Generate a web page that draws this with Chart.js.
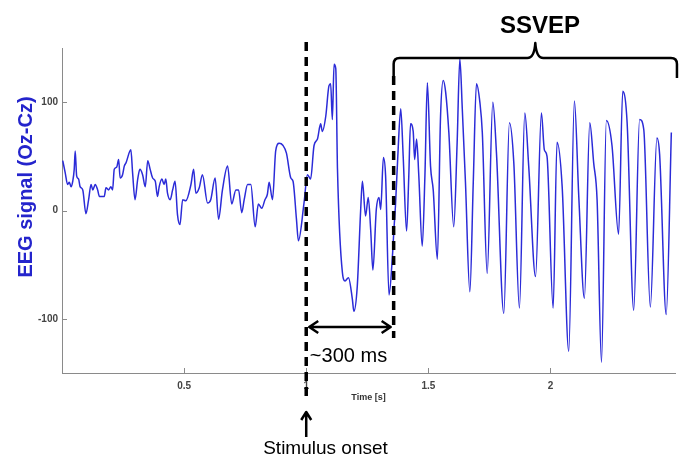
<!DOCTYPE html>
<html>
<head>
<meta charset="utf-8">
<script src="https://cdn.jsdelivr.net/npm/chart.js@4.4.1/dist/chart.umd.min.js"></script>
<style>
html,body{margin:0;padding:0;background:#ffffff;}
#wrap{width:683px;height:457px;position:relative;}
</style>
</head>
<body>
<div id="wrap"><canvas id="c" width="683" height="457"></canvas></div>
<script>
// ---- data ----
const timeSec = [
  0.003,0.013,0.023,0.030,0.037,0.044,0.050,0.054,0.060,0.068,
  0.074,0.085,0.098,0.109,0.119,0.126,0.136,0.146,0.153,0.173,
  0.180,0.191,0.200,0.207,0.214,0.224,0.232,0.238,0.248,0.255,
  0.262,0.282,0.289,0.299,0.310,0.319,0.330,0.341,0.351,0.361,
  0.371,0.382,0.391,0.398,0.409,0.418,0.425,0.432,0.443,0.453,
  0.463,0.473,0.483,0.494,0.507,0.528,0.539,0.548,0.562,0.575,
  0.596,0.609,0.627,0.641,0.657,0.678,0.695,0.712,0.723,0.736,
  0.746,0.760,0.773,0.791,0.804,0.818,0.831,0.841,0.848,0.862,
  0.875,0.889,0.905,0.919,0.937,0.946,0.960,0.968,0.991,1.005,
  1.018,1.032,1.046,1.059,1.066,1.080,1.093,1.100,1.107,1.114,
  1.121,1.128,1.148,1.159,1.173,1.189,1.195,1.209,1.223,1.230,
  1.243,1.254,1.264,1.273,1.287,1.298,1.305,1.316,1.325,1.339,
  1.353,1.359,1.366,1.375,1.387,1.397,1.411,1.420,1.427,1.438,
  1.444,1.452,1.461,1.475,1.486,1.496,1.509,1.520,1.537,1.550,
  1.561,1.571,1.584,1.604,1.618,1.629,1.639,1.652,1.670,1.684,
  1.697,1.711,1.721,1.741,1.764,1.779,1.809,1.832,1.850,1.873,
  1.895,1.911,1.939,1.963,1.975,1.986,2.011,2.027,2.048,2.075,
  2.098,2.116,2.139,2.161,2.177,2.191,2.209,2.229,2.252,2.279,
  2.296,2.314,2.341,2.365,2.382,2.409,2.436,2.447,2.474,2.495
];
const eegSignal = [
  46,35,24,26,22,27,38,55,32,29,
  22,19,-3,10,24,19,24,19,13,13,
  21,19,22,19,38,40,47,30,33,41,
  44,56,35,10,29,38,33,22,46,38,
  30,27,13,22,29,24,29,16,10,19,
  27,-4,-13,10,9,24,38,16,21,33,
  7,10,30,-8,19,41,6,19,19,-2,
  10,24,24,-15,6,2,10,15,26,10,
  55,62,60,53,30,27,-8,-28,7,33,
  29,60,66,80,73,87,115,117,84,135,
  131,38,-57,-65,-62,-82,-93,-70,1,27,
  -5,12,-18,-55,1,12,1,49,32,-78,
  -42,-18,7,50,94,50,-19,32,80,73,
  47,66,32,-33,32,118,41,19,-45,87,
  120,109,72,-15,63,140,94,26,-75,26,
  117,100,72,-58,100,53,-95,81,44,-90,
  90,41,-61,90,56,50,-90,63,22,-130,
  101,13,-81,81,44,10,-140,83,60,-22,
  110,81,-92,84,75,-89,67,52,-96,72
];
const xTickValues = [0.5, 1, 1.5, 2];
const yTickValues = [-100, 0, 100];
const xRange = [0, 2.51];
const yRange = [-150, 150];
const xAxisTitle = 'Time [s]';
const yAxisTitle = 'EEG signal (Oz-Cz)';
const stimulusOnsetSec = 1.0;
const ssvepStartSec = 1.358;
const ssvepEndSec = 2.518;
const ssvepLabel = 'SSVEP';
const latencyLabel = '~300 ms';
const onsetLabel = 'Stimulus onset';

const FONT = '"Liberation Sans", Arial, Helvetica, sans-serif';

const annotations = {
  id: 'annotations',
  afterDraw(chart) {
    const {ctx, chartArea: ca, scales: {x, y}} = chart;
    ctx.save();
    // inward tick marks
    ctx.strokeStyle = '#8a8a8a';
    ctx.lineWidth = 1;
    xTickValues.forEach(v => {
      const px = Math.round(x.getPixelForValue(v)) + 0.5;
      ctx.beginPath(); ctx.moveTo(px, ca.bottom); ctx.lineTo(px, ca.bottom - 5); ctx.stroke();
    });
    yTickValues.forEach(v => {
      const py = Math.round(y.getPixelForValue(v)) + 0.5;
      ctx.beginPath(); ctx.moveTo(ca.left, py); ctx.lineTo(ca.left + 5, py); ctx.stroke();
    });

    const xOn = x.getPixelForValue(stimulusOnsetSec);
    const xS = x.getPixelForValue(ssvepStartSec);
    const xE = x.getPixelForValue(ssvepEndSec);
    const xm = (xS + xE) / 2;

    // dashed lines
    ctx.strokeStyle = '#000';
    ctx.lineWidth = 3.5;
    ctx.setLineDash([9, 6]);
    ctx.lineDashOffset = 0;
    ctx.beginPath(); ctx.moveTo(xOn, 42); ctx.lineTo(xOn, 402); ctx.stroke();
    ctx.beginPath(); ctx.moveTo(xS, 76); ctx.lineTo(xS, 338); ctx.stroke();
    ctx.setLineDash([]);

    // curly bracket
    ctx.lineWidth = 2.5;
    ctx.lineJoin = 'round';
    ctx.lineCap = 'butt';
    const by = 58;
    ctx.beginPath();
    ctx.moveTo(xS, 76);
    ctx.lineTo(xS, by + 6);
    ctx.quadraticCurveTo(xS, by, xS + 6, by);
    ctx.lineTo(xm - 8, by);
    ctx.quadraticCurveTo(xm - 1, by, xm, by - 15);
    ctx.quadraticCurveTo(xm + 1, by, xm + 8, by);
    ctx.lineTo(xE - 6, by);
    ctx.quadraticCurveTo(xE, by, xE, by + 6);
    ctx.lineTo(xE, 78);
    ctx.stroke();

    // double arrow (~300 ms)
    const ay = 327;
    ctx.lineWidth = 2.5;
    ctx.beginPath();
    ctx.moveTo(xOn + 3, ay); ctx.lineTo(xS - 3, ay);
    ctx.moveTo(xOn + 12, ay - 6); ctx.lineTo(xOn + 3, ay); ctx.lineTo(xOn + 12, ay + 6);
    ctx.moveTo(xS - 12, ay - 6); ctx.lineTo(xS - 3, ay); ctx.lineTo(xS - 12, ay + 6);
    ctx.stroke();

    // upward arrow (stimulus onset)
    ctx.beginPath();
    ctx.moveTo(xOn, 437); ctx.lineTo(xOn, 412);
    ctx.moveTo(xOn - 5, 420); ctx.lineTo(xOn, 412); ctx.lineTo(xOn + 5, 420);
    ctx.stroke();

    // texts
    ctx.fillStyle = '#000';
    ctx.textAlign = 'center';
    ctx.textBaseline = 'alphabetic';
    ctx.font = '20px ' + FONT;
    ctx.fillText(latencyLabel, 348.5, 362);
    ctx.font = '19px ' + FONT;
    ctx.fillText(onsetLabel, 325.5, 454);
    ctx.font = 'bold 24px ' + FONT;
    ctx.fillText(ssvepLabel, 540, 33);

    // y-axis title
    ctx.save();
    ctx.translate(31.5, 187);
    ctx.rotate(-Math.PI / 2);
    ctx.fillStyle = '#2424cc';
    ctx.font = 'bold 20px ' + FONT;
    ctx.fillText(yAxisTitle, 0, 0);
    ctx.restore();

    ctx.restore();
  }
};

new Chart(document.getElementById('c'), {
  type: 'line',
  data: {
    datasets: [{
      data: timeSec.map((t, i) => ({x: t, y: eegSignal[i]})),
      borderColor: '#2b2bd8',
      borderWidth: 1.5,
      pointRadius: 0,
      fill: false,
      cubicInterpolationMode: 'monotone'
    }]
  },
  options: {
    responsive: false,
    animation: false,
    devicePixelRatio: 1,
    layout: {padding: {top: 48, right: 8, left: 0, bottom: 0}},
    plugins: {legend: {display: false}, tooltip: {enabled: false}},
    scales: {
      x: {
        type: 'linear',
        min: xRange[0], max: xRange[1],
        afterFit(s) { s.height = 84; },
        afterBuildTicks(s) { s.ticks = xTickValues.map(v => ({value: v})); },
        grid: {display: false, drawTicks: false},
        border: {display: true, color: '#8a8a8a', width: 1},
        ticks: {
          font: {family: FONT, size: 10, weight: 'bold'}, color: '#444',
          padding: 7, maxRotation: 0, autoSkip: false,
          callback: v => String(v)
        },
        title: {
          display: true, text: xAxisTitle,
          font: {family: FONT, size: 9, weight: 'bold'}, color: '#333',
          padding: {top: 0, bottom: 54}
        }
      },
      y: {
        type: 'linear',
        min: yRange[0], max: yRange[1],
        afterFit(s) { s.width = 62; },
        afterBuildTicks(s) { s.ticks = yTickValues.map(v => ({value: v})); },
        grid: {display: false, drawTicks: false},
        border: {display: true, color: '#8a8a8a', width: 1},
        ticks: {
          font: {family: FONT, size: 10, weight: 'bold'}, color: '#444',
          padding: 4, autoSkip: false,
          callback: v => String(v)
        }
      }
    }
  },
  plugins: [annotations]
});
</script>
</body>
</html>
